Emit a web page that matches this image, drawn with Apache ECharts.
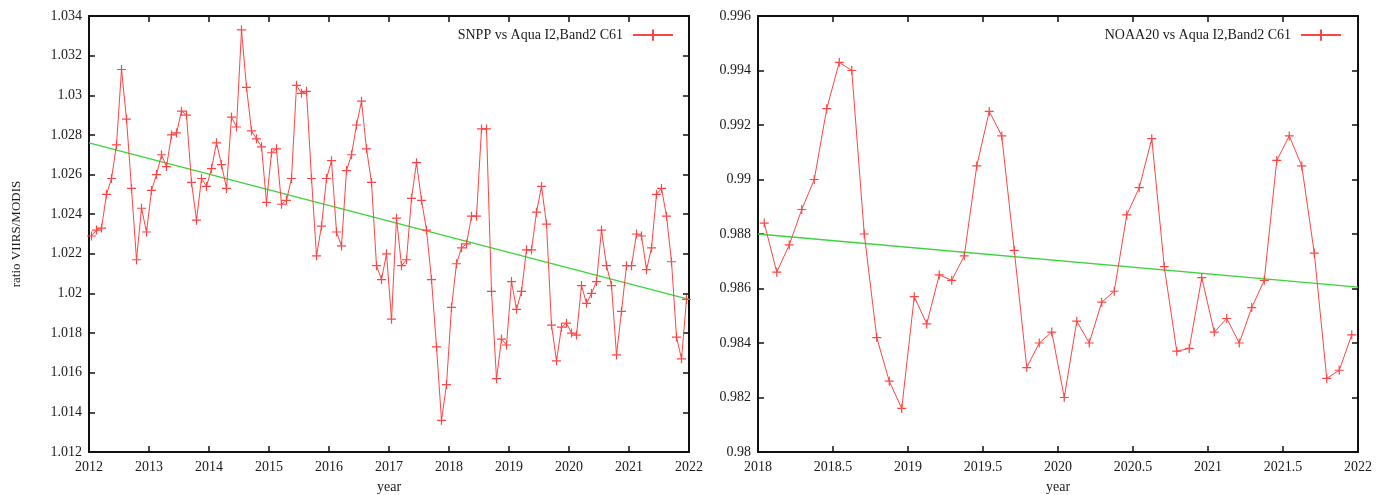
<!DOCTYPE html>
<html>
<head>
<meta charset="utf-8">
<script src="https://cdn.jsdelivr.net/npm/echarts@6/dist/echarts.min.js"></script>
<style>
html,body{margin:0;padding:0;background:#fff;}
#chart{width:1386px;height:495px;}
</style>
</head>
<body>
<div id="chart"></div>
<script>
// ---- data ----
const snppName = 'SNPP vs Aqua I2,Band2 C61';
const noaaName = 'NOAA20 vs Aqua I2,Band2 C61';
const snppStartYear = 2012;   // monthly values, Jan 2012 .. Dec 2021
const noaaStartYear = 2018;   // monthly values, Jan 2018 .. Dec 2021
const snppValues = [
  1.0229, 1.0232, 1.0233, 1.0250, 1.0258, 1.0275, 1.0313, 1.0288, 1.0253, 1.0217, 1.0243, 1.0231,
  1.0252, 1.0260, 1.0270, 1.0264, 1.0280, 1.0281, 1.0292, 1.0290, 1.0256, 1.0237, 1.0258, 1.0254,
  1.0263, 1.0276, 1.0265, 1.0253, 1.0289, 1.0284, 1.0333, 1.0304, 1.0282, 1.0278, 1.0274, 1.0246,
  1.0271, 1.0273, 1.0245, 1.0247, 1.0258, 1.0305, 1.0301, 1.0302, 1.0258, 1.0219, 1.0234, 1.0258,
  1.0267, 1.0231, 1.0224, 1.0262, 1.0270, 1.0285, 1.0297, 1.0273, 1.0256, 1.0214, 1.0207, 1.0220,
  1.0187, 1.0238, 1.0214, 1.0217, 1.0248, 1.0266, 1.0247, 1.0232, 1.0207, 1.0173, 1.0136, 1.0154,
  1.0193, 1.0215, 1.0223, 1.0225, 1.0239, 1.0239, 1.0283, 1.0283, 1.0201, 1.0157, 1.0177, 1.0174,
  1.0206, 1.0192, 1.0201, 1.0222, 1.0222, 1.0241, 1.0254, 1.0235, 1.0184, 1.0166, 1.0183, 1.0185,
  1.0180, 1.0179, 1.0204, 1.0195, 1.0200, 1.0206, 1.0232, 1.0214, 1.0204, 1.0169, 1.0191, 1.0214,
  1.0214, 1.0230, 1.0229, 1.0212, 1.0223, 1.0250, 1.0253, 1.0239, 1.0216, 1.0178, 1.0167, 1.0197
];
const noaaValues = [
  0.9884, 0.9866, 0.9876, 0.9889, 0.9900, 0.9926, 0.9943, 0.9940, 0.9880, 0.9842, 0.9826, 0.9816,
  0.9857, 0.9847, 0.9865, 0.9863, 0.9872, 0.9905, 0.9925, 0.9916, 0.9874, 0.9831, 0.9840, 0.9844,
  0.9820, 0.9848, 0.9840, 0.9855, 0.9859, 0.9887, 0.9897, 0.9915, 0.9868, 0.9837, 0.9838, 0.9864,
  0.9844, 0.9849, 0.9840, 0.9853, 0.9863, 0.9907, 0.9916, 0.9905, 0.9873, 0.9827, 0.9830, 0.9843
];
const snppTrendYears = [2012, 2022];
const snppTrendValues = [1.0276, 1.0197];
const noaaTrendYears = [2018, 2022];
const noaaTrendValues = [0.9880, 0.98605];

const leftXTicks = {min: 2012, max: 2022, interval: 1};
const leftYTicks = {min: 1.012, max: 1.034, interval: 0.002};
const rightXTicks = {min: 2018, max: 2022, interval: 0.5};
const rightYTicks = {min: 0.980, max: 0.996, interval: 0.002};

const yAxisName = 'ratio VIIRS/MODIS';
const xAxisName = 'year';

// ---- build ----
function monthly(start, vals) {
  return vals.map((v, i) => [start + (i + 0.5) / 12, v]);
}
function pairs(xs, ys) { return xs.map((x, i) => [x, ys[i]]); }

const FONT = 'Liberation Serif';
const RED = '#ff4444';
const GREEN = '#3ed23e';
const PLUS = 'path://M0,5L10,5M5,0L5,10';

function fmtY(v) { return String(parseFloat(v.toFixed(3))); }
function fmtX(v) { return String(parseFloat(v.toFixed(1))); }

const axisLine = {show: true, onZero: false, lineStyle: {color: '#111', width: 2}};
const tick = {show: true, inside: true, length: 6, lineStyle: {color: '#111', width: 1.5}};
const label = {color: '#1a1a1a', fontFamily: FONT, fontSize: 14};

function xAxes(grid, t) {
  return [
    Object.assign({type: 'value', gridIndex: grid, position: 'bottom',
      axisLine, axisTick: tick, splitLine: {show: false},
      axisLabel: Object.assign({formatter: fmtX, margin: 8, showMinLabel: true, showMaxLabel: true}, label),
      name: xAxisName, nameLocation: 'middle', nameGap: 28,
      nameTextStyle: {color: '#1a1a1a', fontFamily: FONT, fontSize: 14}}, t),
    Object.assign({type: 'value', gridIndex: grid, position: 'top',
      axisLine, axisTick: tick, splitLine: {show: false}, axisLabel: {show: false}}, t)
  ];
}
function yAxes(grid, t, withName) {
  const a = Object.assign({type: 'value', gridIndex: grid, position: 'left',
      axisLine, axisTick: tick, splitLine: {show: false},
      axisLabel: Object.assign({formatter: fmtY, margin: 7, showMinLabel: true, showMaxLabel: true}, label)}, t);
  if (withName) {
    a.name = yAxisName;
    a.nameLocation = 'middle';
    a.nameGap = 66;
    a.nameTextStyle = {color: '#1a1a1a', fontFamily: FONT, fontSize: 13};
  }
  return [a,
    Object.assign({type: 'value', gridIndex: grid, position: 'right',
      axisLine, axisTick: tick, splitLine: {show: false}, axisLabel: {show: false}}, t)];
}

function dataSeries(name, data, xi, yi) {
  return {
    type: 'line', name, data, xAxisIndex: xi, yAxisIndex: yi,
    symbol: PLUS, symbolSize: 9, showSymbol: true,
    lineStyle: {color: RED, width: 1},
    itemStyle: {color: 'none', borderColor: RED, borderWidth: 1.2, opacity: 1},
    emphasis: {disabled: true}, z: 3
  };
}
function trendSeries(name, data, xi, yi) {
  return {
    type: 'line', name, data, xAxisIndex: xi, yAxisIndex: yi,
    symbol: 'none', lineStyle: {color: GREEN, width: 1.3},
    emphasis: {disabled: true}, z: 2
  };
}

const option = {
  animation: false,
  backgroundColor: '#fff',
  grid: [
    {left: 89, top: 16, width: 600, height: 436, outerBoundsMode: 'none', containLabel: false},
    {left: 758, top: 16, width: 600, height: 436, outerBoundsMode: 'none', containLabel: false}
  ],
  xAxis: [].concat(xAxes(0, leftXTicks), xAxes(1, rightXTicks)),
  yAxis: [].concat(yAxes(0, leftYTicks, true), yAxes(1, rightYTicks, false)),
  legend: [
    {data: [snppName], right: 707, top: 22, align: 'right', itemWidth: 40, itemHeight: 14,
     itemGap: 0, selectedMode: false,
     textStyle: {color: '#1a1a1a', fontFamily: FONT, fontSize: 14, padding: [0, 5, 0, 0]}},
    {data: [noaaName], right: 39, top: 22, align: 'right', itemWidth: 40, itemHeight: 14,
     itemGap: 0, selectedMode: false,
     textStyle: {color: '#1a1a1a', fontFamily: FONT, fontSize: 14, padding: [0, 5, 0, 0]}}
  ],
  series: [
    trendSeries('snppTrend', pairs(snppTrendYears, snppTrendValues), 0, 0),
    dataSeries(snppName, monthly(snppStartYear, snppValues), 0, 0),
    trendSeries('noaaTrend', pairs(noaaTrendYears, noaaTrendValues), 2, 2),
    dataSeries(noaaName, monthly(noaaStartYear, noaaValues), 2, 2)
  ]
};

const chart = echarts.init(document.getElementById('chart'), null, {renderer: 'canvas'});
chart.setOption(option);
</script>
</body>
</html>
